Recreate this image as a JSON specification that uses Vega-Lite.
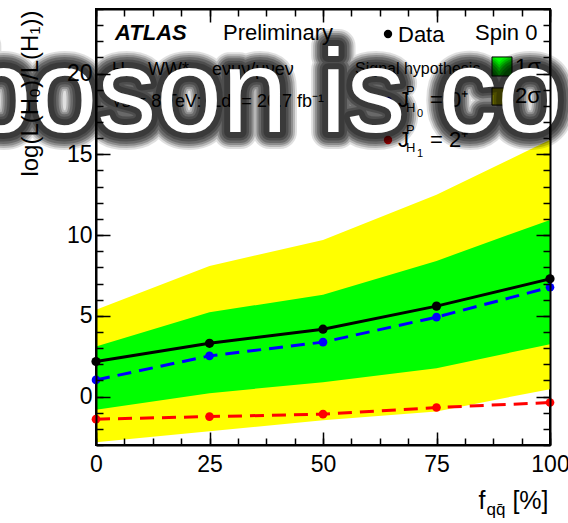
{
  "$schema": "https://vega.github.io/schema/vega-lite/v6.json",
  "width": 454,
  "height": 436,
  "autosize": {"type": "none"},
  "padding": {"left": 96, "top": 9, "right": 18, "bottom": 78},
  "background": "white",
  "config": {
    "view": {"stroke": "black", "strokeWidth": 2},
    "font": "Liberation Sans",
    "axis": {"grid": false, "ticks": true, "tickColor": "black", "tickWidth": 1.5, "tickOpacity": 1, "labelColor": "black", "titleColor": "black", "labelFont": "Liberation Sans", "titleFont": "Liberation Sans", "titleFontWeight": "normal", "domainColor": "black", "domainWidth": 2, "zindex": 1}
  },
  "data": {"values": [
    {"x": 0, "obs": 2.17, "blue": 1.03, "red": -1.40, "g_lo": -0.82, "g_hi": 3.10, "y_lo": -2.83, "y_hi": 5.37},
    {"x": 25, "obs": 3.30, "blue": 2.52, "red": -1.24, "g_lo": 0.21, "g_hi": 5.22, "y_lo": -2.15, "y_hi": 8.09},
    {"x": 50, "obs": 4.17, "blue": 3.37, "red": -1.09, "g_lo": 0.89, "g_hi": 6.30, "y_lo": -1.46, "y_hi": 9.70},
    {"x": 75, "obs": 5.60, "blue": 4.92, "red": -0.68, "g_lo": 1.76, "g_hi": 8.40, "y_lo": -0.92, "y_hi": 12.49},
    {"x": 100, "obs": 7.29, "blue": 6.77, "red": -0.37, "g_lo": 3.24, "g_hi": 10.94, "y_lo": 0.46, "y_hi": 15.90}
  ]},
  "resolve": {"axis": {"x": "independent", "y": "independent"}},
  "layer": [
    {
      "mark": {"type": "area", "color": "#ffff00", "opacity": 1},
      "encoding": {
        "x": {"field": "x", "type": "quantitative", "scale": {"domain": [0, 100], "nice": false, "zero": false},
          "axis": {"orient": "bottom", "zindex": 2, "ticks": true, "values": [0, 25, 50, 75, 100], "tickSize": -13, "labelFontSize": 23, "labelPadding": 21, "labelFlush": false, "labelOverlap": false, "format": "d", "domain": true,
            "title": "[%]", "titleFontSize": 25, "titleX": 452, "titleY": 63, "titleAlign": "right", "titleBaseline": "alphabetic", "titleAngle": 0}},
        "y": {"field": "y_hi", "type": "quantitative", "scale": {"domain": [-3, 24], "nice": false, "zero": false},
          "axis": {"orient": "left", "zindex": 2, "ticks": true, "values": [0, 5, 10, 15, 20], "tickSize": -14, "labelFontSize": 23, "labelPadding": 18, "domain": true,
            "title": "log(L(H₀)/L(H₁))", "titleFontSize": 24, "titleAngle": -90, "titleX": -59, "titleY": 1, "titleAlign": "right", "titleBaseline": "alphabetic"}},
        "y2": {"field": "y_lo"}
      }
    },
    {
      "mark": {"type": "area", "color": "#00ff00", "opacity": 1},
      "encoding": {
        "x": {"field": "x", "type": "quantitative", "scale": {"domain": [0, 100], "nice": false, "zero": false},
          "axis": {"orient": "bottom", "zindex": 2, "ticks": true, "values": [0, 6.25, 12.5, 18.75, 25, 31.25, 37.5, 43.75, 50, 56.25, 62.5, 68.75, 75, 81.25, 87.5, 93.75, 100], "tickSize": -7, "labels": false, "domain": false,
            "title": "f", "titleFontSize": 25, "titleX": 382, "titleY": 63, "titleAlign": "left", "titleBaseline": "alphabetic", "titleAngle": 0}},
        "y": {"field": "g_hi", "type": "quantitative", "scale": {"domain": [-3, 24], "nice": false, "zero": false},
          "axis": {"orient": "left", "zindex": 2, "ticks": true, "values": [-3, -2, -1, 0, 1, 2, 3, 4, 5, 6, 7, 8, 9, 10, 11, 12, 13, 14, 15, 16, 17, 18, 19, 20, 21, 22, 23, 24], "tickSize": -7, "labels": false, "domain": false, "title": null}},
        "y2": {"field": "g_lo"}
      }
    },
    {
      "mark": {"type": "line", "color": "black", "strokeWidth": 3},
      "encoding": {
        "x": {"field": "x", "type": "quantitative", "scale": {"domain": [0, 100], "nice": false, "zero": false},
          "axis": {"orient": "top", "zindex": 2, "ticks": true, "values": [0, 25, 50, 75, 100], "tickSize": -13, "labels": false, "domain": true, "title": null}},
        "y": {"field": "obs", "type": "quantitative", "scale": {"domain": [-3, 24], "nice": false, "zero": false},
          "axis": {"orient": "right", "zindex": 2, "ticks": true, "values": [0, 5, 10, 15, 20], "tickSize": -14, "labels": false, "domain": true, "title": null}}
      }
    },
    {
      "mark": {"type": "line", "color": "#0000ff", "strokeWidth": 3, "strokeDash": [14, 8]},
      "encoding": {
        "x": {"field": "x", "type": "quantitative", "scale": {"domain": [0, 100], "nice": false, "zero": false},
          "axis": {"orient": "top", "zindex": 2, "ticks": true, "values": [0, 6.25, 12.5, 18.75, 25, 31.25, 37.5, 43.75, 50, 56.25, 62.5, 68.75, 75, 81.25, 87.5, 93.75, 100], "tickSize": -7, "labels": false, "domain": false,
            "title": "qq̄", "titleFontSize": 17, "titleX": 390, "titleY": 505, "titleAlign": "left", "titleBaseline": "alphabetic", "titleAngle": 0}},
        "y": {"field": "blue", "type": "quantitative", "scale": {"domain": [-3, 24], "nice": false, "zero": false},
          "axis": {"orient": "right", "zindex": 2, "ticks": true, "values": [-3, -2, -1, 0, 1, 2, 3, 4, 5, 6, 7, 8, 9, 10, 11, 12, 13, 14, 15, 16, 17, 18, 19, 20, 21, 22, 23, 24], "tickSize": -7, "labels": false, "domain": false, "title": null}}
      }
    },
    {
      "mark": {"type": "line", "color": "#ff0000", "strokeWidth": 3, "strokeDash": [14, 8]},
      "encoding": {
        "x": {"field": "x", "type": "quantitative", "scale": {"domain": [0, 100], "nice": false, "zero": false}, "axis": null},
        "y": {"field": "red", "type": "quantitative", "scale": {"domain": [-3, 24], "nice": false, "zero": false}, "axis": null}
      }
    },
    {
      "mark": {"type": "point", "filled": true, "color": "black", "size": 85, "opacity": 1},
      "encoding": {
        "x": {"field": "x", "type": "quantitative", "scale": {"domain": [0, 100], "nice": false, "zero": false}, "axis": null},
        "y": {"field": "obs", "type": "quantitative", "scale": {"domain": [-3, 24], "nice": false, "zero": false}, "axis": null}
      }
    },
    {
      "mark": {"type": "point", "filled": true, "color": "#0000ff", "size": 75, "opacity": 1},
      "encoding": {
        "x": {"field": "x", "type": "quantitative", "scale": {"domain": [0, 100], "nice": false, "zero": false}, "axis": null},
        "y": {"field": "blue", "type": "quantitative", "scale": {"domain": [-3, 24], "nice": false, "zero": false}, "axis": null}
      }
    },
    {
      "mark": {"type": "point", "filled": true, "color": "#ff0000", "size": 75, "opacity": 1},
      "encoding": {
        "x": {"field": "x", "type": "quantitative", "scale": {"domain": [0, 100], "nice": false, "zero": false}, "axis": null},
        "y": {"field": "red", "type": "quantitative", "scale": {"domain": [-3, 24], "nice": false, "zero": false}, "axis": null}
      }
    },
    {
      "data": {"values": [
        {"x1": 87.22, "x2": 91.63, "y1": 21.03, "y2": 19.85, "c": "g"},
        {"x1": 87.22, "x2": 91.63, "y1": 19.11, "y2": 18.05, "c": "y"}
      ]},
      "mark": {"type": "rect", "stroke": "black", "strokeWidth": 1},
      "encoding": {
        "x": {"field": "x1", "type": "quantitative", "scale": {"domain": [0, 100], "nice": false, "zero": false}, "axis": null},
        "x2": {"field": "x2"},
        "y": {"field": "y1", "type": "quantitative", "scale": {"domain": [-3, 24], "nice": false, "zero": false}, "axis": null},
        "y2": {"field": "y2"},
        "color": {"field": "c", "type": "nominal", "scale": {"domain": ["g", "y"], "range": ["#00ff00", "#ffff00"]}, "legend": null}
      }
    },
    {
      "data": {"values": [
        {"x": 64.32, "y": 22.45, "c": "d"},
        {"x": 64.32, "y": 18.30, "c": "b"},
        {"x": 64.32, "y": 15.89, "c": "r"}
      ]},
      "mark": {"type": "point", "filled": true, "size": 70, "opacity": 1},
      "encoding": {
        "x": {"field": "x", "type": "quantitative", "scale": {"domain": [0, 100], "nice": false, "zero": false}, "axis": null},
        "y": {"field": "y", "type": "quantitative", "scale": {"domain": [-3, 24], "nice": false, "zero": false}, "axis": null},
        "fill": {"field": "c", "type": "nominal", "scale": {"domain": ["d", "b", "r"], "range": ["black", "#0000ff", "#ff0000"]}, "legend": null}
      }
    },
    {
      "data": {"values": [{"x": 4.19, "y": 22.08, "t": "ATLAS"}]},
      "mark": {"type": "text", "align": "left", "baseline": "alphabetic", "fontSize": 22, "fontWeight": "bold", "fontStyle": "italic", "font": "Liberation Sans", "color": "black"},
      "encoding": {
        "x": {"field": "x", "type": "quantitative", "scale": {"domain": [0, 100], "nice": false, "zero": false}, "axis": null},
        "y": {"field": "y", "type": "quantitative", "scale": {"domain": [-3, 24], "nice": false, "zero": false}, "axis": null},
        "text": {"field": "t"}
      }
    },
    {
      "data": {"values": [
        {"x": 27.97, "y": 22.08, "t": "Preliminary"},
        {"x": 66.52, "y": 21.96, "t": "Data"},
        {"x": 83.48, "y": 22.08, "t": "Spin 0"},
        {"x": 92.29, "y": 19.97, "t": "1σ"},
        {"x": 92.29, "y": 18.18, "t": "2σ"},
        {"x": 66.52, "y": 17.93, "t": "J"},
        {"x": 66.52, "y": 15.45, "t": "J"},
        {"x": 73.57, "y": 17.93, "t": "= 0⁺"},
        {"x": 73.57, "y": 15.45, "t": "= 2⁺"}
      ]},
      "mark": {"type": "text", "align": "left", "baseline": "alphabetic", "fontSize": 22, "font": "Liberation Sans", "color": "black"},
      "encoding": {
        "x": {"field": "x", "type": "quantitative", "scale": {"domain": [0, 100], "nice": false, "zero": false}, "axis": null},
        "y": {"field": "y", "type": "quantitative", "scale": {"domain": [-3, 24], "nice": false, "zero": false}, "axis": null},
        "text": {"field": "t"}
      }
    },
    {
      "data": {"values": [
        {"x": 3.52, "y": 19.91, "t": "H→ WW*→ eνμν/μνeν"},
        {"x": 3.52, "y": 17.93, "t": "√s = 8 TeV: ∫Ldt = 20.7 fb⁻¹"}
      ]},
      "mark": {"type": "text", "align": "left", "baseline": "alphabetic", "fontSize": 18, "font": "Liberation Sans", "color": "black"},
      "encoding": {
        "x": {"field": "x", "type": "quantitative", "scale": {"domain": [0, 100], "nice": false, "zero": false}, "axis": null},
        "y": {"field": "y", "type": "quantitative", "scale": {"domain": [-3, 24], "nice": false, "zero": false}, "axis": null},
        "text": {"field": "t"}
      }
    },
    {
      "data": {"values": [{"x": 57.05, "y": 19.97, "t": "Signal hypothesis"}]},
      "mark": {"type": "text", "align": "left", "baseline": "alphabetic", "fontSize": 16, "font": "Liberation Sans", "color": "black"},
      "encoding": {
        "x": {"field": "x", "type": "quantitative", "scale": {"domain": [0, 100], "nice": false, "zero": false}, "axis": null},
        "y": {"field": "y", "type": "quantitative", "scale": {"domain": [-3, 24], "nice": false, "zero": false}, "axis": null},
        "text": {"field": "t"}
      }
    },
    {
      "data": {"values": [
        {"x": 68.28, "y": 18.67, "t": "P"},
        {"x": 68.28, "y": 16.26, "t": "P"},
        {"x": 68.28, "y": 17.62, "t": "H"},
        {"x": 68.28, "y": 15.14, "t": "H"}
      ]},
      "mark": {"type": "text", "align": "left", "baseline": "alphabetic", "fontSize": 13, "font": "Liberation Sans", "color": "black"},
      "encoding": {
        "x": {"field": "x", "type": "quantitative", "scale": {"domain": [0, 100], "nice": false, "zero": false}, "axis": null},
        "y": {"field": "y", "type": "quantitative", "scale": {"domain": [-3, 24], "nice": false, "zero": false}, "axis": null},
        "text": {"field": "t"}
      }
    },
    {
      "data": {"values": [
        {"x": 70.7, "y": 17.31, "t": "0"},
        {"x": 70.7, "y": 14.83, "t": "1"}
      ]},
      "mark": {"type": "text", "align": "left", "baseline": "alphabetic", "fontSize": 11, "font": "Liberation Sans", "color": "black"},
      "encoding": {
        "x": {"field": "x", "type": "quantitative", "scale": {"domain": [0, 100], "nice": false, "zero": false}, "axis": null},
        "y": {"field": "y", "type": "quantitative", "scale": {"domain": [-3, 24], "nice": false, "zero": false}, "axis": null},
        "text": {"field": "t"}
      }
    },
    {
      "data": {"values": [{"x": -28.63, "y": 16.38, "t": "boson is co"}]},
      "mark": {"type": "text", "align": "left", "baseline": "alphabetic", "fontSize": 118, "font": "Liberation Sans", "fill": "black", "stroke": "black", "strokeWidth": 34, "strokeJoin": "round", "opacity": 0.12},
      "encoding": {
        "x": {"field": "x", "type": "quantitative", "scale": {"domain": [0, 100], "nice": false, "zero": false}, "axis": null},
        "y": {"field": "y", "type": "quantitative", "scale": {"domain": [-3, 24], "nice": false, "zero": false}, "axis": null},
        "text": {"field": "t"}
      }
    },
    {
      "data": {"values": [{"x": -28.63, "y": 16.38, "t": "boson is co"}]},
      "mark": {"type": "text", "align": "left", "baseline": "alphabetic", "fontSize": 118, "font": "Liberation Sans", "fill": "black", "stroke": "black", "strokeWidth": 30, "strokeJoin": "round", "opacity": 0.18},
      "encoding": {
        "x": {"field": "x", "type": "quantitative", "scale": {"domain": [0, 100], "nice": false, "zero": false}, "axis": null},
        "y": {"field": "y", "type": "quantitative", "scale": {"domain": [-3, 24], "nice": false, "zero": false}, "axis": null},
        "text": {"field": "t"}
      }
    },
    {
      "data": {"values": [{"x": -28.63, "y": 16.38, "t": "boson is co"}]},
      "mark": {"type": "text", "align": "left", "baseline": "alphabetic", "fontSize": 118, "font": "Liberation Sans", "fill": "black", "stroke": "black", "strokeWidth": 26, "strokeJoin": "round", "opacity": 0.22},
      "encoding": {
        "x": {"field": "x", "type": "quantitative", "scale": {"domain": [0, 100], "nice": false, "zero": false}, "axis": null},
        "y": {"field": "y", "type": "quantitative", "scale": {"domain": [-3, 24], "nice": false, "zero": false}, "axis": null},
        "text": {"field": "t"}
      }
    },
    {
      "data": {"values": [{"x": -28.63, "y": 16.38, "t": "boson is co"}]},
      "mark": {"type": "text", "align": "left", "baseline": "alphabetic", "fontSize": 118, "font": "Liberation Sans", "fill": "black", "stroke": "black", "strokeWidth": 22, "strokeJoin": "round", "opacity": 0.25},
      "encoding": {
        "x": {"field": "x", "type": "quantitative", "scale": {"domain": [0, 100], "nice": false, "zero": false}, "axis": null},
        "y": {"field": "y", "type": "quantitative", "scale": {"domain": [-3, 24], "nice": false, "zero": false}, "axis": null},
        "text": {"field": "t"}
      }
    },
    {
      "data": {"values": [{"x": -28.63, "y": 16.38, "t": "boson is co"}]},
      "mark": {"type": "text", "align": "left", "baseline": "alphabetic", "fontSize": 118, "font": "Liberation Sans", "fill": "black", "stroke": "black", "strokeWidth": 17, "strokeJoin": "round", "opacity": 0.25},
      "encoding": {
        "x": {"field": "x", "type": "quantitative", "scale": {"domain": [0, 100], "nice": false, "zero": false}, "axis": null},
        "y": {"field": "y", "type": "quantitative", "scale": {"domain": [-3, 24], "nice": false, "zero": false}, "axis": null},
        "text": {"field": "t"}
      }
    },
    {
      "data": {"values": [{"x": -28.63, "y": 16.38, "t": "boson is co"}]},
      "mark": {"type": "text", "align": "left", "baseline": "alphabetic", "fontSize": 118, "font": "Liberation Sans", "fill": "black", "stroke": "black", "strokeWidth": 12, "strokeJoin": "round", "opacity": 0.25},
      "encoding": {
        "x": {"field": "x", "type": "quantitative", "scale": {"domain": [0, 100], "nice": false, "zero": false}, "axis": null},
        "y": {"field": "y", "type": "quantitative", "scale": {"domain": [-3, 24], "nice": false, "zero": false}, "axis": null},
        "text": {"field": "t"}
      }
    },
    {
      "data": {"values": [{"x": -28.63, "y": 16.38, "t": "boson is co"}]},
      "mark": {"type": "text", "align": "left", "baseline": "alphabetic", "fontSize": 118, "font": "Liberation Sans", "fill": "white"},
      "encoding": {
        "x": {"field": "x", "type": "quantitative", "scale": {"domain": [0, 100], "nice": false, "zero": false}, "axis": null},
        "y": {"field": "y", "type": "quantitative", "scale": {"domain": [-3, 24], "nice": false, "zero": false}, "axis": null},
        "text": {"field": "t"}
      }
    }
  ]
}
